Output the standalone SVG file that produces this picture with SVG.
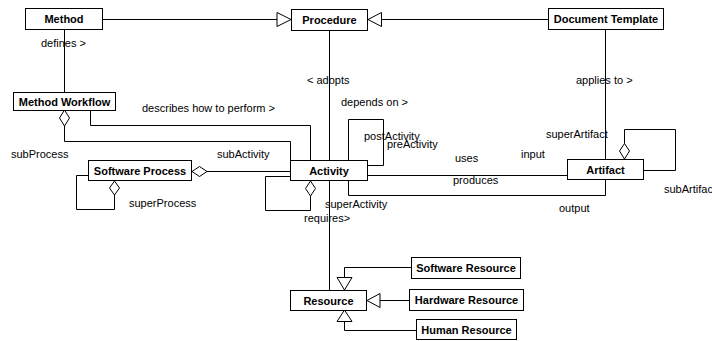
<svg xmlns="http://www.w3.org/2000/svg" width="712" height="341" viewBox="0 0 712 341">
<style>
.box{fill:#fff;stroke:#000;stroke-width:1}
.n{font-family:"Liberation Sans",Arial,sans-serif;font-size:11px;font-weight:bold;text-anchor:middle;fill:#000}
.l{font-family:"Liberation Sans",Arial,sans-serif;font-size:11px;fill:#000}
.c{fill:none;stroke:#000;stroke-width:1}
.tri{fill:#fff;stroke:#000;stroke-width:1}
.dia{fill:#fff;stroke:#000;stroke-width:1}
</style>
<rect width="712" height="341" fill="#fff"/>
<g id="connectors">
  <!-- generalizations to Procedure -->
  <path class="c" d="M102.5,19.5 H277"/>
  <path class="c" d="M381.5,19.5 H548"/>
  <!-- defines -->
  <path class="c" d="M64.5,29 V92"/>
  <!-- adopts / requires -->
  <path class="c" d="M329.5,31 V290"/>
  <!-- applies to -->
  <path class="c" d="M605.5,29 V159"/>
  <!-- describes how to perform -->
  <path class="c" d="M90.5,110 V125.5 H310.5 V161"/>
  <!-- subProcess -->
  <path class="c" d="M64.5,126 V141.5 H290.5 V161"/>
  <!-- subActivity -->
  <path class="c" d="M206.5,171.5 H291"/>
  <!-- superProcess loop -->
  <path class="c" d="M114.5,195 V209.5 H76.5 V175.5 H88"/>
  <!-- superActivity loop -->
  <path class="c" d="M310.5,196 V210.5 H265.5 V176.5 H291"/>
  <!-- pre/post activity loop -->
  <path class="c" d="M348.5,161 V119.5 H383.5 V165.5 H368"/>
  <!-- uses / produces -->
  <path class="c" d="M368,175.5 H568"/>
  <!-- output -->
  <path class="c" d="M348.5,181 V195.5 H605.5 V180"/>
  <!-- artifact loop -->
  <path class="c" d="M624.5,143.5 V129.5 H675.5 V170.5 H644"/>
  <!-- resource generalizations -->
  <path class="c" d="M344.5,277.5 V267.5 H412"/>
  <path class="c" d="M380,300.5 H409.5"/>
  <path class="c" d="M344.5,321.5 V330.5 H417"/>
  <!-- arrowheads -->
  <polygon class="tri" points="277,12.5 291,19.5 277,26.5"/>
  <polygon class="tri" points="381.5,12.5 368,19.5 381.5,26.5"/>
  <polygon class="tri" points="337,277.5 352,277.5 344.5,290"/>
  <polygon class="tri" points="380,293.5 380,307.5 367,300.5"/>
  <polygon class="tri" points="337,321.5 352,321.5 344.5,310"/>
  <!-- diamonds -->
  <polygon class="dia" points="64.5,110 69.5,118 64.5,126 59.5,118"/>
  <polygon class="dia" points="192,171.5 199.5,166.5 207,171.5 199.5,176.5"/>
  <polygon class="dia" points="114.5,181 119.5,188 114.5,195 109.5,188"/>
  <polygon class="dia" points="310.5,181 315.5,188.5 310.5,196 305.5,188.5"/>
  <polygon class="dia" points="624.5,159 629.5,151 624.5,143.5 619.5,151"/>
</g>
<g id="labels">
  <text class="l" x="41" y="47">defines &gt;</text>
  <text class="l" x="307" y="84">&lt; adopts</text>
  <text class="l" x="341" y="106">depends on &gt;</text>
  <text class="l" x="576" y="84">applies to &gt;</text>
  <text class="l" x="142" y="112">describes how to perform &gt;</text>
  <text class="l" x="11" y="158">subProcess</text>
  <text class="l" x="217" y="158">subActivity</text>
  <text class="l" x="129" y="207">superProcess</text>
  <text class="l" x="364" y="140">postActivity</text>
  <text class="l" x="387" y="148">preActivity</text>
  <text class="l" x="455" y="162">uses</text>
  <text class="l" x="521" y="158">input</text>
  <text class="l" x="453" y="184">produces</text>
  <text class="l" x="559" y="212">output</text>
  <text class="l" x="546" y="138">superArtifact</text>
  <text class="l" x="664" y="193">subArtifact</text>
  <text class="l" x="325" y="208">superActivity</text>
  <text class="l" x="304" y="222">requires&gt;</text>
</g>
<g id="method"><rect class="box" x="25.5" y="8.5" width="77" height="21"/><text class="n" x="64" y="23">Method</text></g>
<g id="procedure"><rect class="box" x="291.5" y="9.5" width="76" height="21"/><text class="n" x="329.5" y="24">Procedure</text></g>
<g id="document-template"><rect class="box" x="548.5" y="8.5" width="115" height="21"/><text class="n" x="606" y="23">Document Template</text></g>
<g id="method-workflow"><rect class="box" x="13.5" y="92.5" width="102" height="18"/><text class="n" x="64.5" y="105.5">Method Workflow</text></g>
<g id="software-process"><rect class="box" x="88.5" y="160.5" width="103" height="20"/><text class="n" x="140" y="174.5">Software Process</text></g>
<g id="activity"><rect class="box" x="290.5" y="160.5" width="77" height="20"/><text class="n" x="329" y="174.5">Activity</text></g>
<g id="artifact"><rect class="box" x="567.5" y="159.5" width="76" height="20"/><text class="n" x="605.5" y="173.5">Artifact</text></g>
<g id="resource"><rect class="box" x="290.5" y="290.5" width="76" height="20"/><text class="n" x="328.5" y="304.5">Resource</text></g>
<g id="software-resource"><rect class="box" x="411.5" y="257.5" width="109" height="21"/><text class="n" x="466" y="272">Software Resource</text></g>
<g id="hardware-resource"><rect class="box" x="409.5" y="289.5" width="114" height="21"/><text class="n" x="466.5" y="304">Hardware Resource</text></g>
<g id="human-resource"><rect class="box" x="416.5" y="319.5" width="100" height="20"/><text class="n" x="466.5" y="333.5">Human Resource</text></g>
</svg>
